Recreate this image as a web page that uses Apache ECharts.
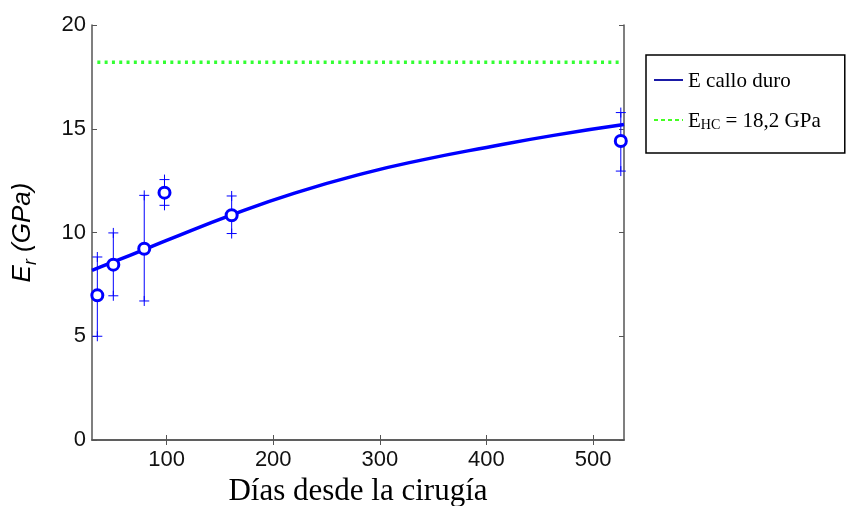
<!DOCTYPE html>
<html>
<head>
<meta charset="utf-8">
<script src="https://cdn.jsdelivr.net/npm/echarts@6/dist/echarts.min.js"></script>
<style>
  html, body { margin: 0; padding: 0; background: #fff; }
  #chart { width: 847px; height: 506px; }
</style>
</head>
<body>
<div id="chart"></div>
<script>
  // mediciones (media y extremos de la barra de error)
  var dias = [35, 50, 79, 98, 161, 526];
  var moduloEr = [6.97, 8.45, 9.22, 11.92, 10.83, 14.41];
  var erMin = [5.0, 6.95, 6.7, 11.31, 9.95, 12.96];
  var erMax = [8.82, 9.98, 11.79, 12.55, 11.76, 15.78];
  // curva del callo duro
  var diasAjuste = [30, 50, 80, 100, 161, 220, 285, 340, 400, 463, 529];
  var erAjuste = [8.18, 8.58, 9.2, 9.62, 10.85, 11.9, 12.85, 13.5, 14.1, 14.68, 15.2];
  // hueso cortical
  var diasHC = [35, 526];
  var erHC = [18.2, 18.2];
  var xTicks = [100, 200, 300, 400, 500];

  var serif = 'Liberation Serif';
  var sans = 'Liberation Sans';
  var ejeColor = '#555';

  function pares(xs, ys) {
    return xs.map(function(x, i) { return [x, ys[i]]; });
  }

  var option = {
    animation: false,
    backgroundColor: '#fff',
    grid: { left: 92, top: 25, right: 223, bottom: 66, containLabel: false, outerBoundsMode: 'none' },
    legend: {
      orient: 'vertical',
      left: 646,
      top: 55,
      padding: [16, 24, 21, 7],
      itemGap: 19,
      itemWidth: 29,
      itemHeight: 14,
      borderColor: '#000',
      borderWidth: 1.5,
      backgroundColor: '#fff',
      data: [
        { name: 'E callo duro', itemStyle: { opacity: 0, borderWidth: 0 }, lineStyle: { width: 2, color: '#1a1aa6' } },
        { name: 'EHC', itemStyle: { opacity: 0, borderWidth: 0 }, lineStyle: { width: 2, color: '#44ff22', type: [4, 3] } }
      ],
      formatter: function(name) {
        if (name == 'EHC') {
          return '{t|E}{s|HC}{t| = 18,2 GPa}';
        }
        return '{t|' + name + '}';
      },
      textStyle: {
        rich: {
          t: { fontFamily: serif, fontSize: 21, color: '#000', lineHeight: 24, verticalAlign: 'bottom' },
          s: { fontFamily: serif, fontSize: 14, color: '#000', lineHeight: 18, verticalAlign: 'bottom' }
        }
      }
    },
    xAxis: [{
      type: 'value',
      min: 30,
      max: 529,
      name: 'Días desde la cirugía',
      nameLocation: 'middle',
      nameGap: 36,
      nameTextStyle: { fontFamily: serif, fontSize: 31, color: '#000' },
      axisLine: { lineStyle: { color: ejeColor, width: 1.5 } },
      axisTick: { inside: true, length: 5, customValues: xTicks, lineStyle: { color: ejeColor } },
      axisLabel: { customValues: xTicks, margin: 9, fontFamily: sans, fontSize: 22, color: '#111' },
      splitLine: { show: false }
    }, {
      type: 'value',
      position: 'top',
      min: 30,
      max: 529,
      axisLine: { show: true, lineStyle: { color: ejeColor, width: 1.5 } },
      axisTick: { inside: true, length: 5, customValues: xTicks, lineStyle: { color: ejeColor } },
      axisLabel: { show: false },
      splitLine: { show: false }
    }],
    yAxis: [{
      type: 'value',
      min: 0,
      max: 20,
      interval: 5,
      name: '{i|E}{s|r}{i| (GPa)}',
      nameLocation: 'middle',
      nameGap: 52,
      nameTextStyle: {
        rich: {
          i: { fontFamily: sans, fontStyle: 'italic', fontSize: 26, color: '#000', lineHeight: 34, verticalAlign: 'middle' },
          s: { fontFamily: sans, fontStyle: 'italic', fontSize: 18, color: '#000', lineHeight: 18, verticalAlign: 'bottom' }
        }
      },
      axisLine: { show: true, lineStyle: { color: ejeColor, width: 1.5 } },
      axisTick: { show: true, inside: true, length: 5, lineStyle: { color: ejeColor } },
      axisLabel: { margin: 6, fontFamily: sans, fontSize: 22, color: '#111' },
      splitLine: { show: false }
    }, {
      type: 'value',
      position: 'right',
      min: 0,
      max: 20,
      interval: 5,
      axisLine: { show: true, lineStyle: { color: ejeColor, width: 1.5 } },
      axisTick: { show: true, inside: true, length: 5, lineStyle: { color: ejeColor } },
      axisLabel: { show: false },
      splitLine: { show: false }
    }],
    series: [{
      name: 'barras',
      type: 'custom',
      z: 2,
      data: dias.map(function(d, i) { return [d, erMin[i], erMax[i]]; }),
      encode: { x: 0, y: [1, 2] },
      renderItem: function(params, api) {
        var x = api.value(0);
        var lo = api.coord([x, api.value(1)]);
        var hi = api.coord([x, api.value(2)]);
        var c = 5;
        var st = { stroke: '#0000ff', lineWidth: 1 };
        var cruz = function(p) {
          return [
            { type: 'line', shape: { x1: p[0] - c, y1: p[1], x2: p[0] + c, y2: p[1] }, style: st },
            { type: 'line', shape: { x1: p[0], y1: p[1] - c, x2: p[0], y2: p[1] + c }, style: st }
          ];
        };
        return {
          type: 'group',
          children: [{ type: 'line', shape: { x1: lo[0], y1: lo[1], x2: hi[0], y2: hi[1] }, style: st }]
            .concat(cruz(lo)).concat(cruz(hi))
        };
      }
    }, {
      name: 'E callo duro',
      type: 'line',
      z: 3,
      smooth: 0.5,
      symbol: 'none',
      lineStyle: { color: '#0000ff', width: 3.5 },
      itemStyle: { color: '#0000ff' },
      data: pares(diasAjuste, erAjuste)
    }, {
      name: 'EHC',
      type: 'line',
      z: 3,
      symbol: 'none',
      lineStyle: { color: '#33ff33', width: 3.5, type: [3, 4.3] },
      itemStyle: { color: '#33ff33' },
      data: pares(diasHC, erHC)
    }, {
      name: 'medidas',
      type: 'scatter',
      z: 4,
      symbol: 'circle',
      symbolSize: 11,
      itemStyle: { color: '#fff', borderColor: '#0000ff', borderWidth: 3, opacity: 1 },
      data: pares(dias, moduloEr)
    }]
  };

  var myChart = echarts.init(document.getElementById('chart'));
  myChart.setOption(option, true);
</script>
</body>
</html>
